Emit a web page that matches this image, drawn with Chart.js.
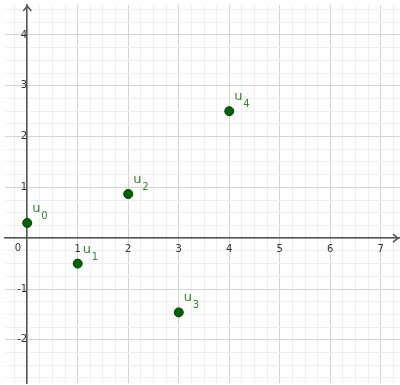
<!DOCTYPE html>
<html>
<head>
<meta charset="utf-8">
<script src="https://cdn.jsdelivr.net/npm/chart.js@4"></script>
<style>
  html, body { margin: 0; padding: 0; background: #fff; }
  canvas { display: block; }
</style>
</head>
<body>
<canvas id="grafico" width="400" height="385"></canvas>
<script>
// termini della successione u_n
const indici = [0, 1, 2, 3, 4];
const valoriX = [0, 1, 2, 3, 4];
const valoriY = [0.3, -0.5, 0.87, -1.46, 2.5];

// etichette degli assi
const tickX = [1, 2, 3, 4, 5, 6, 7];
const tickY = [-2, -1, 1, 2, 3, 4];

const verde = '#2e8b2e';
const isIntero = v => Math.abs(v - Math.round(v)) < 1e-6;

// freccette sugli assi, "0" all'origine e nomi dei punti
const decorazioni = {
  id: 'decorazioni',
  afterDraw(chart) {
    const c = chart.ctx;
    const sx = chart.scales.x, sy = chart.scales.y;
    const x0 = sx.getPixelForValue(0), y0 = sy.getPixelForValue(0);
    const area = chart.chartArea;

    c.save();
    c.strokeStyle = '#555';
    c.lineWidth = 1.5;
    c.beginPath();
    c.moveTo(area.right - 7, y0 - 4);
    c.lineTo(area.right - 2, y0);
    c.lineTo(area.right - 7, y0 + 4);
    c.moveTo(x0 - 4, area.top + 6);
    c.lineTo(x0, area.top + 1);
    c.lineTo(x0 + 4, area.top + 6);
    c.stroke();

    c.fillStyle = '#333';
    c.font = '10px "DejaVu Sans"';
    c.textAlign = 'right';
    c.textBaseline = 'top';
    c.fillText('0', x0 - 6, y0 + 5);

    c.fillStyle = verde;
    c.textAlign = 'left';
    c.textBaseline = 'alphabetic';
    const meta = chart.getDatasetMeta(0);
    meta.data.forEach((p, i) => {
      c.font = '13px "DejaVu Sans"';
      c.fillText('u', p.x + 5, p.y - 11);
      c.font = '10px "DejaVu Sans"';
      c.fillText(String(indici[i]), p.x + 14, p.y - 4);
    });
    c.restore();
  }
};

const scalaComune = (etichette) => ({
  type: 'linear',
  // niente spazio extra per le etichette ai bordi
  afterFit: s => { s.paddingTop = 0; s.paddingBottom = 0; s.paddingLeft = 0; s.paddingRight = 0; },
  grid: {
    color: ctx => isIntero(ctx.tick.value) ? '#d4d4d4' : '#efefef',
    lineWidth: 1,
    drawTicks: false
  },
  border: { color: '#555', width: 1.5 },
  ticks: {
    stepSize: 0.25,
    maxTicksLimit: 200,
    autoSkip: false,
    includeBounds: false,
    maxRotation: 0,
    minRotation: 0,
    padding: 5,
    color: '#333',
    font: { family: 'DejaVu Sans', size: 10 },
    callback: v => (isIntero(v) && etichette.includes(Math.round(v))) ? String(Math.round(v)) : ''
  }
});

new Chart(document.getElementById('grafico'), {
  type: 'scatter',
  data: {
    datasets: [{
      data: valoriX.map((x, i) => ({ x: x, y: valoriY[i] })),
      backgroundColor: '#006400',
      borderColor: '#004000',
      borderWidth: 1,
      pointRadius: 4.5
    }]
  },
  options: {
    responsive: false,
    animation: false,
    layout: { autoPadding: false, padding: { left: 5, top: 5, right: 0, bottom: 2 } },
    plugins: { legend: { display: false }, tooltip: { enabled: false } },
    scales: {
      x: Object.assign(scalaComune(tickX), {
        min: -0.44, max: 7.38,
        position: { y: 0 }
      }),
      y: Object.assign(scalaComune(tickY), {
        min: -2.85, max: 4.59,
        position: { x: 0 }
      })
    }
  },
  plugins: [decorazioni]
});
</script>
</body>
</html>
